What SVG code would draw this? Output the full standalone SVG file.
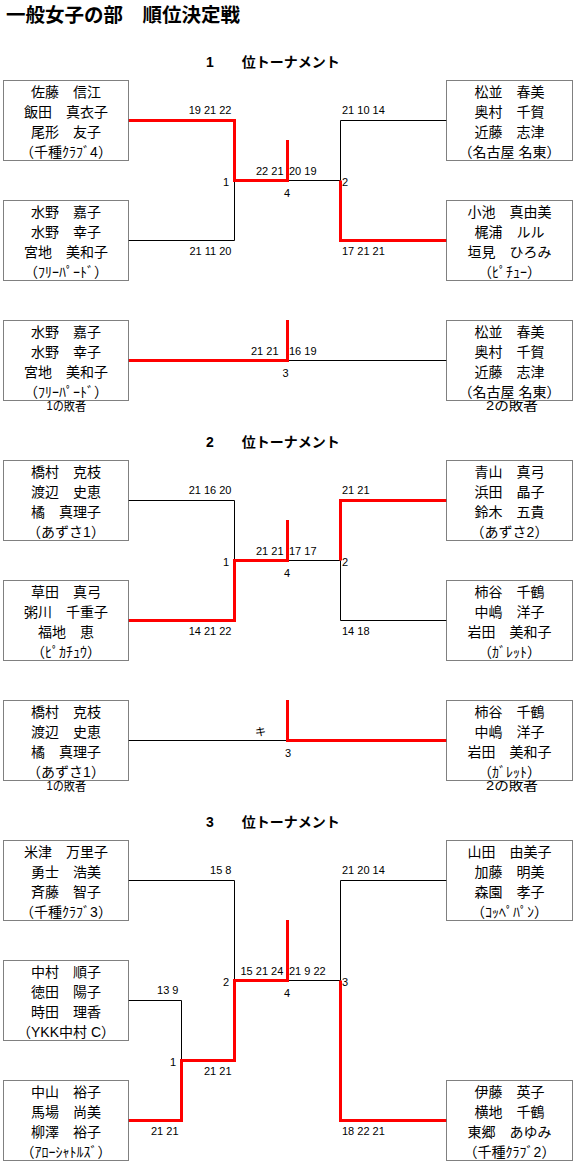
<svg xmlns="http://www.w3.org/2000/svg" width="575" height="1166" viewBox="0 0 575 1166">
<style>
text { font-family: 'Liberation Sans', 'Noto Sans CJK JP', sans-serif; fill: #000; }
.ttl { font-size: 19.5px; font-weight: bold; }
.hd { font-size: 14px; font-weight: bold; }
.nm { font-size: 14px; text-anchor: middle; }
.sc { font-size: 11px; }
.se { font-size: 11px; text-anchor: end; }
.ls { font-size: 13px; }
.box { fill: #fff; stroke: #000; stroke-width: 1; stroke-dasharray: 1 1; }
.bk { fill: none; stroke: #000; stroke-width: 1; }
.rd { fill: none; stroke: #ff0000; stroke-width: 3; stroke-linejoin: miter; }
</style>
<rect width="575" height="1166" fill="#fff"/>
<text class="ttl" x="6" y="22">一般女子の部　順位決定戦</text>
<text class="hd" x="206" y="66.5">1　　位トーナメント</text>
<text class="hd" x="206" y="446.5">2　　位トーナメント</text>
<text class="hd" x="206" y="826.5">3　　位トーナメント</text>

<g id="connectors">
  <!-- section 1 -->
  <path class="bk" d="M128.5,240.5 H234.5 V180.5"/>
  <path class="bk" d="M287.5,180.5 H340.5 V120.5 H446.5"/>
  <path class="rd" d="M128.5,120.5 H234.5 V180.5 H287.5 V140"/>
  <path class="rd" d="M446.5,240.5 H340.5 V180.5"/>
  <path class="bk" d="M287.5,360.5 H446.5"/>
  <path class="rd" d="M128.5,360.5 H287.5 V320"/>
  <!-- section 2 -->
  <path class="bk" d="M128.5,500.5 H234.5 V560.5"/>
  <path class="bk" d="M287.5,560.5 H340.5 V620.5 H446.5"/>
  <path class="rd" d="M128.5,620.5 H234.5 V560.5 H287.5 V520"/>
  <path class="rd" d="M446.5,500.5 H340.5 V560.5"/>
  <path class="bk" d="M128.5,740.5 H287.5"/>
  <path class="rd" d="M287.5,700 V740.5 H446.5"/>
  <!-- section 3 -->
  <path class="bk" d="M128.5,880.5 H234.5 V980.5"/>
  <path class="bk" d="M128.5,1000.5 H181.5 V1060.5"/>
  <path class="bk" d="M287.5,980.5 H340.5 V880.5 H446.5"/>
  <path class="rd" d="M128.5,1120.5 H181.5 V1060.5 H234.5 V980.5 H287.5 V920"/>
  <path class="rd" d="M340.5,980.5 V1120.5 H446.5"/>
</g>

<g id="labels">
  <!-- section 1 -->
  <text class="se" x="231.5" y="114">19 21 22</text>
  <text class="se" x="231.5" y="255">21 11 20</text>
  <text class="sc" x="223" y="186">1</text>
  <text class="sc" x="256" y="175">22 21</text>
  <text class="sc" x="289" y="175">20 19</text>
  <text class="sc" x="284" y="197">4</text>
  <text class="sc" x="342" y="186">2</text>
  <text class="sc" x="342" y="114">21 10 14</text>
  <text class="sc" x="342" y="255">17 21 21</text>
  <text class="sc" x="251" y="355">21 21</text>
  <text class="sc" x="289" y="355">16 19</text>
  <text class="sc" x="282.5" y="377">3</text>
  <text class="ls" x="46.5" y="410" textLength="39.5" lengthAdjust="spacingAndGlyphs">1の敗者</text>
  <text class="ls" x="486" y="410" textLength="52" lengthAdjust="spacingAndGlyphs">2の敗者</text>
  <!-- section 2 -->
  <text class="se" x="231.5" y="494">21 16 20</text>
  <text class="se" x="231.5" y="635">14 21 22</text>
  <text class="sc" x="223" y="566">1</text>
  <text class="sc" x="256" y="555">21 21</text>
  <text class="sc" x="289" y="555">17 17</text>
  <text class="sc" x="284" y="577">4</text>
  <text class="sc" x="342" y="566">2</text>
  <text class="sc" x="342" y="494">21 21</text>
  <text class="sc" x="342" y="635">14 18</text>
  <text class="sc" x="255" y="736">キ</text>
  <text class="sc" x="285" y="757">3</text>
  <text class="ls" x="46.5" y="790" textLength="39.5" lengthAdjust="spacingAndGlyphs">1の敗者</text>
  <text class="ls" x="486" y="790" textLength="52" lengthAdjust="spacingAndGlyphs">2の敗者</text>
  <!-- section 3 -->
  <text class="se" x="231.5" y="874">15 8</text>
  <text class="se" x="178.5" y="994">13 9</text>
  <text class="se" x="231.5" y="1075">21 21</text>
  <text class="se" x="178.5" y="1135">21 21</text>
  <text class="sc" x="170" y="1066">1</text>
  <text class="sc" x="223" y="986">2</text>
  <text class="sc" x="240.5" y="975">15 21 24</text>
  <text class="sc" x="289" y="975">21 9 22</text>
  <text class="sc" x="284" y="997">4</text>
  <text class="sc" x="342" y="986">3</text>
  <text class="sc" x="342" y="874">21 20 14</text>
  <text class="sc" x="342" y="1135">18 22 21</text>
</g>

<!-- Section 1 nodes -->
<g id="s1-l1">
  <rect class="box" x="3.5" y="80.5" width="125" height="80"/>
  <text class="nm" x="66" y="97">佐藤　信江</text>
  <text class="nm" x="66" y="117">飯田　真衣子</text>
  <text class="nm" x="66" y="137">尾形　友子</text>
  <text class="nm" x="66" y="157">（千種ｸﾗﾌﾞ4）</text>
</g>
<g id="s1-l2">
  <rect class="box" x="3.5" y="200.5" width="125" height="80"/>
  <text class="nm" x="66" y="217">水野　嘉子</text>
  <text class="nm" x="66" y="237">水野　幸子</text>
  <text class="nm" x="66" y="257">宮地　美和子</text>
  <text class="nm" x="66" y="277">（ﾌﾘｰﾊﾟｰﾄﾞ）</text>
</g>
<g id="s1-r1">
  <rect class="box" x="446.5" y="80.5" width="126" height="80"/>
  <text class="nm" x="509.5" y="97">松並　春美</text>
  <text class="nm" x="509.5" y="117">奥村　千賀</text>
  <text class="nm" x="509.5" y="137">近藤　志津</text>
  <text class="nm" x="509.5" y="157">（名古屋 名東）</text>
</g>
<g id="s1-r2">
  <rect class="box" x="446.5" y="200.5" width="126" height="80"/>
  <text class="nm" x="509.5" y="217">小池　真由美</text>
  <text class="nm" x="509.5" y="237">梶浦　ルル</text>
  <text class="nm" x="509.5" y="257">垣見　ひろみ</text>
  <text class="nm" x="509.5" y="277">（ﾋﾟﾁｭｰ）</text>
</g>
<g id="s1-t1">
  <rect class="box" x="3.5" y="320.5" width="125" height="80"/>
  <text class="nm" x="66" y="337">水野　嘉子</text>
  <text class="nm" x="66" y="357">水野　幸子</text>
  <text class="nm" x="66" y="377">宮地　美和子</text>
  <text class="nm" x="66" y="397">（ﾌﾘｰﾊﾟｰﾄﾞ）</text>
</g>
<g id="s1-t2">
  <rect class="box" x="446.5" y="320.5" width="126" height="80"/>
  <text class="nm" x="509.5" y="337">松並　春美</text>
  <text class="nm" x="509.5" y="357">奥村　千賀</text>
  <text class="nm" x="509.5" y="377">近藤　志津</text>
  <text class="nm" x="509.5" y="397">（名古屋 名東）</text>
</g>

<!-- Section 2 nodes -->
<g id="s2-l1">
  <rect class="box" x="3.5" y="460.5" width="125" height="80"/>
  <text class="nm" x="66" y="477">橋村　克枝</text>
  <text class="nm" x="66" y="497">渡辺　史恵</text>
  <text class="nm" x="66" y="517">橘　真理子</text>
  <text class="nm" x="66" y="537">（あずさ1）</text>
</g>
<g id="s2-l2">
  <rect class="box" x="3.5" y="580.5" width="125" height="80"/>
  <text class="nm" x="66" y="597">草田　真弓</text>
  <text class="nm" x="66" y="617">粥川　千重子</text>
  <text class="nm" x="66" y="637">福地　恵</text>
  <text class="nm" x="66" y="657">（ﾋﾟｶﾁｭｳ）</text>
</g>
<g id="s2-r1">
  <rect class="box" x="446.5" y="460.5" width="126" height="80"/>
  <text class="nm" x="509.5" y="477">青山　真弓</text>
  <text class="nm" x="509.5" y="497">浜田　晶子</text>
  <text class="nm" x="509.5" y="517">鈴木　五貴</text>
  <text class="nm" x="509.5" y="537">（あずさ2）</text>
</g>
<g id="s2-r2">
  <rect class="box" x="446.5" y="580.5" width="126" height="80"/>
  <text class="nm" x="509.5" y="597">柿谷　千鶴</text>
  <text class="nm" x="509.5" y="617">中嶋　洋子</text>
  <text class="nm" x="509.5" y="637">岩田　美和子</text>
  <text class="nm" x="509.5" y="657">（ｶﾞﾚｯﾄ）</text>
</g>
<g id="s2-t1">
  <rect class="box" x="3.5" y="700.5" width="125" height="80"/>
  <text class="nm" x="66" y="717">橋村　克枝</text>
  <text class="nm" x="66" y="737">渡辺　史恵</text>
  <text class="nm" x="66" y="757">橘　真理子</text>
  <text class="nm" x="66" y="777">（あずさ1）</text>
</g>
<g id="s2-t2">
  <rect class="box" x="446.5" y="700.5" width="126" height="80"/>
  <text class="nm" x="509.5" y="717">柿谷　千鶴</text>
  <text class="nm" x="509.5" y="737">中嶋　洋子</text>
  <text class="nm" x="509.5" y="757">岩田　美和子</text>
  <text class="nm" x="509.5" y="777">（ｶﾞﾚｯﾄ）</text>
</g>

<!-- Section 3 nodes -->
<g id="s3-l1">
  <rect class="box" x="3.5" y="840.5" width="125" height="80"/>
  <text class="nm" x="66" y="857">米津　万里子</text>
  <text class="nm" x="66" y="877">勇士　浩美</text>
  <text class="nm" x="66" y="897">斉藤　智子</text>
  <text class="nm" x="66" y="917">（千種ｸﾗﾌﾞ3）</text>
</g>
<g id="s3-l2">
  <rect class="box" x="3.5" y="960.5" width="125" height="80"/>
  <text class="nm" x="66" y="977">中村　順子</text>
  <text class="nm" x="66" y="997">徳田　陽子</text>
  <text class="nm" x="66" y="1017">時田　理香</text>
  <text class="nm" x="66" y="1037">（YKK中村 C）</text>
</g>
<g id="s3-l3">
  <rect class="box" x="3.5" y="1080.5" width="125" height="80"/>
  <text class="nm" x="66" y="1097">中山　裕子</text>
  <text class="nm" x="66" y="1117">馬場　尚美</text>
  <text class="nm" x="66" y="1137">柳澤　裕子</text>
  <text class="nm" x="66" y="1157">（ｱﾛｰｼｬﾄﾙｽﾞ）</text>
</g>
<g id="s3-r1">
  <rect class="box" x="446.5" y="840.5" width="126" height="80"/>
  <text class="nm" x="509.5" y="857">山田　由美子</text>
  <text class="nm" x="509.5" y="877">加藤　明美</text>
  <text class="nm" x="509.5" y="897">森園　孝子</text>
  <text class="nm" x="509.5" y="917">（ｺｯﾍﾟﾊﾟﾝ）</text>
</g>
<g id="s3-r2">
  <rect class="box" x="446.5" y="1080.5" width="126" height="80"/>
  <text class="nm" x="509.5" y="1097">伊藤　英子</text>
  <text class="nm" x="509.5" y="1117">横地　千鶴</text>
  <text class="nm" x="509.5" y="1137">東郷　あゆみ</text>
  <text class="nm" x="509.5" y="1157">（千種ｸﾗﾌﾞ2）</text>
</g>
</svg>
